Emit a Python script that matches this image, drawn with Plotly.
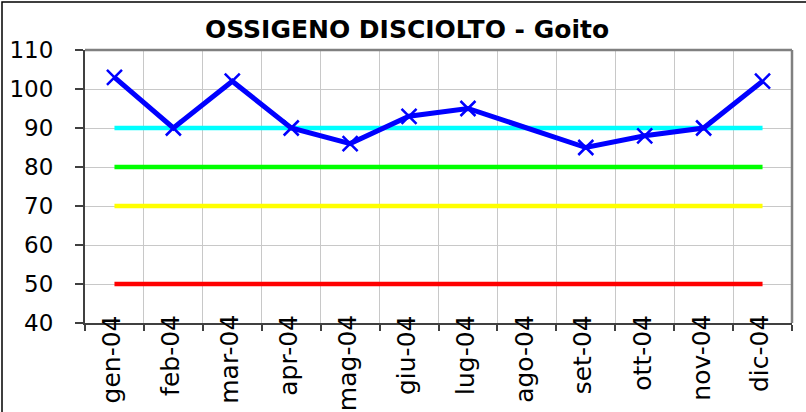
import plotly.graph_objects as go

months = ["gen-04", "feb-04", "mar-04", "apr-04", "mag-04", "giu-04",
          "lug-04", "ago-04", "set-04", "ott-04", "nov-04", "dic-04"]
ossigeno = [103, 90, 102, 90, 86, 93, 95, None, 85, 88, 90, 102]
soglie = [90, 80, 70, 50]
soglie_colori = ["#00FFFF", "#00FF00", "#FFFF00", "#FF0000"]

title_text = "OSSIGENO DISCIOLTO - Goito"
y_ticks = [40, 50, 60, 70, 80, 90, 100, 110]

fig = go.Figure()

for val, col in zip(soglie, soglie_colori):
    fig.add_trace(go.Scatter(
        x=months, y=[val] * len(months), mode="lines",
        line=dict(color=col, width=4.5), hoverinfo="skip", showlegend=False))

fig.add_trace(go.Scatter(
    x=months, y=ossigeno, mode="lines+markers", connectgaps=True,
    line=dict(color="#0000FF", width=5),
    marker=dict(symbol="x-thin", size=15, line=dict(color="#0000FF", width=2.5)),
    showlegend=False))

font_family = "DejaVu Sans, Liberation Sans, Arial, sans-serif"

# month labels placed via the category axis (as in the original, they overlap the axis line)
annotations = [
    dict(x=m, y=0, xref="x", yref="paper", text=m, showarrow=False,
         textangle=-90, xanchor="center", yanchor="top", yshift=10, xshift=-3,
         font=dict(family=font_family, size=25, color="black"))
    for m in months
]

fig.update_layout(
    width=806, height=412,
    margin=dict(l=85, r=14, t=50, b=89),
    paper_bgcolor="white", plot_bgcolor="white",
    title=dict(text="<b>" + title_text + "</b>", x=0.505, xanchor="center",
               y=1 - 29 / 412, yanchor="middle",
               font=dict(family=font_family, size=25, color="black")),
    font=dict(family=font_family, size=23, color="black"),
    xaxis=dict(
        type="category", range=[-0.5, 11.5], tickson="boundaries",
        showgrid=True, gridcolor="#C8C8C8", gridwidth=1,
        showline=True, linecolor="#404040", linewidth=2,
        ticks="outside", ticklen=6, tickcolor="#404040", tickwidth=1.5,
        showticklabels=False, automargin=False,
    ),
    yaxis=dict(
        range=[40, 110], tickvals=y_ticks,
        showgrid=True, gridcolor="#C8C8C8", gridwidth=1,
        showline=True, linecolor="#404040", linewidth=2,
        ticks="outside", ticklen=8, tickcolor="#404040", tickwidth=1.5,
        ticklabelstandoff=17, automargin=False,
        tickfont=dict(family=font_family, size=23, color="black"),
        zeroline=False,
    ),
    annotations=annotations,
    shapes=[
        dict(type="line", xref="paper", yref="paper", x0=0, x1=1, y0=1, y1=1,
             line=dict(color="#808080", width=2.5)),
        dict(type="line", xref="paper", yref="paper", x0=1, x1=1, y0=0, y1=1,
             line=dict(color="#808080", width=2.5)),
        dict(type="rect", xref="paper", yref="paper",
             x0=-83 / 707, x1=1.2, y0=-1, y1=1 + 48 / 273,
             line=dict(color="black", width=1.5)),
    ],
)

fig.write_html(
    "out.html",
    config={"displayModeBar": False},
    post_script="document.body.style.margin='0';document.body.style.overflow='hidden';",
)
